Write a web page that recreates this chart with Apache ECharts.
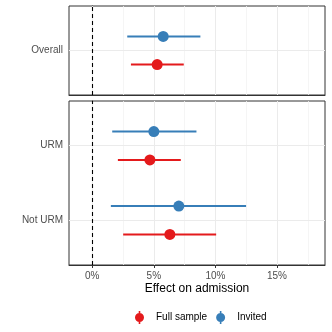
<!DOCTYPE html>
<html>
<head>
<meta charset="utf-8">
<script src="https://cdn.jsdelivr.net/npm/echarts@6/dist/echarts.min.js"></script>
<style>html,body{margin:0;padding:0;background:#fff}#c{width:332px;height:332px}</style>
</head>
<body>
<div id="c"></div>
<script>
// ---- data ----
const categories = ['Overall', 'URM', 'Not URM'];
const panelOf = [0, 1, 1];
const fullEst  = [5.27, 4.68, 6.30];
const fullLow  = [3.14, 2.08, 2.51];
const fullHigh = [7.43, 7.19, 10.06];
const invEst   = [5.76, 5.00, 7.03];
const invLow   = [2.84, 1.62, 1.51];
const invHigh  = [8.78, 8.46, 12.49];
const xTicks = [0, 5, 10, 15];
const xMinorTicks = [2.5, 7.5, 12.5, 17.5];
const groups = ['Full sample', 'Invited'];

// ---- layout helpers ----
const colors = {'Full sample': '#E41A1C', 'Invited': '#377EB8'};
const dodge = {'Full sample': -0.19, 'Invited': 0.19};
const font = 'Liberation Sans, Arial, sans-serif';

const panelCats = [[], []];
categories.forEach((c, i) => panelCats[panelOf[i]].push(i));
function basePos(i) {
  const list = panelCats[panelOf[i]];
  return list.length - list.indexOf(i);
}

function makeSeries(name, est, low, high, panel) {
  const data = [];
  categories.forEach((c, i) => {
    if (panelOf[i] === panel) data.push([low[i], high[i], est[i], basePos(i) + dodge[name]]);
  });
  const color = colors[name];
  return {
    type: 'custom', name: name, xAxisIndex: panel, yAxisIndex: panel, z: 5,
    itemStyle: {color: color},
    encode: {x: [0, 1, 2], y: 3},
    data: data,
    renderItem: function (params, api) {
      const y = api.value(3);
      const a = api.coord([api.value(0), y]);
      const b = api.coord([api.value(1), y]);
      const p = api.coord([api.value(2), y]);
      return {type: 'group', children: [
        {type: 'line', shape: {x1: a[0], y1: a[1], x2: b[0], y2: b[1]}, style: {stroke: color, lineWidth: 2}},
        {type: 'circle', shape: {cx: p[0], cy: p[1], r: 5.5}, style: {fill: color}}
      ]};
    }
  };
}

function gridSeries(panel) {
  const ys = panelCats[panel].map(basePos);
  const lines = [];
  xTicks.forEach(v => lines.push({xAxis: v, lineStyle: {color: '#EBEBEB', width: 1, type: 'solid'}}));
  xMinorTicks.forEach(v => lines.push({xAxis: v, lineStyle: {color: '#F2F2F2', width: 0.8, type: 'solid'}}));
  ys.forEach(v => lines.push({yAxis: v, lineStyle: {color: '#EBEBEB', width: 1, type: 'solid'}}));
  return [{
    type: 'scatter', xAxisIndex: panel, yAxisIndex: panel, data: [], z: 1, silent: true,
    markLine: {silent: true, symbol: 'none', label: {show: false}, animation: false, data: lines}
  }, {
    type: 'scatter', xAxisIndex: panel, yAxisIndex: panel, data: [], z: 2, silent: true,
    markLine: {silent: true, symbol: 'none', label: {show: false}, animation: false,
      data: [{xAxis: 0, lineStyle: {color: '#000', width: 1.1, type: [4, 3]}}]}
  }];
}

const xMin = -1.89, xMax = 18.9;
function xAxis(panel, showLabels) {
  return {
    type: 'value', gridIndex: panel, min: xMin, max: xMax,
    axisLine: {show: true, lineStyle: {color: '#333'}},
    splitLine: {show: false},
    axisTick: {show: showLabels, customValues: xTicks, length: 3, lineStyle: {color: '#333'}},
    axisLabel: {show: showLabels, customValues: xTicks, formatter: v => v + '%', color: '#4D4D4D', fontSize: 10, fontFamily: font, margin: 6},
    name: showLabels ? 'Effect on admission' : '',
    nameLocation: 'middle', nameGap: 18,
    nameTextStyle: {color: '#000', fontSize: 12, fontFamily: font}
  };
}
function yAxis(panel) {
  const idx = panelCats[panel];
  const n = idx.length;
  const vals = idx.map(basePos);
  return {
    type: 'value', gridIndex: panel, min: 0.4, max: n + 0.6,
    axisLine: {show: true, lineStyle: {color: '#333'}},
    splitLine: {show: false},
    axisTick: {show: true, customValues: vals, length: 3, lineStyle: {color: '#333'}},
    axisLabel: {customValues: vals, color: '#4D4D4D', fontSize: 10, fontFamily: font, margin: 6,
      formatter: v => { const k = idx.find(i => basePos(i) === Math.round(v)); return k === undefined ? '' : categories[k]; }}
  };
}

const series = [];
[0, 1].forEach(p => {
  series.push(...gridSeries(p));
  series.push(makeSeries('Invited', invEst, invLow, invHigh, p));
  series.push(makeSeries('Full sample', fullEst, fullLow, fullHigh, p));
});

const chart = echarts.init(document.getElementById('c'), null, {renderer: 'canvas'});
chart.setOption({
  animation: false,
  backgroundColor: '#fff',
  grid: [
    {left: 69, top: 6, width: 256, height: 89, show: true, borderColor: '#333', borderWidth: 1, backgroundColor: 'transparent', containLabel: false},
    {left: 69, top: 101, width: 256, height: 164, show: true, borderColor: '#333', borderWidth: 1, backgroundColor: 'transparent', containLabel: false}
  ],
  xAxis: [xAxis(0, false), xAxis(1, true)],
  yAxis: [yAxis(0), yAxis(1)],
  legend: {
    data: groups.map(g => ({name: g, icon: 'path://M3.7,0H5.3V13H3.7Z M4.5,2A4.5,4.5,0,1,1,4.49,2Z', itemStyle: {color: colors[g]}})),
    left: 135, top: 311, padding: 0, itemWidth: 9, itemHeight: 13, itemGap: 9,
    textStyle: {color: '#000', fontSize: 10, fontFamily: font, padding: [0, 0, 0, 7]}
  },
  series: series
});
</script>
</body>
</html>
